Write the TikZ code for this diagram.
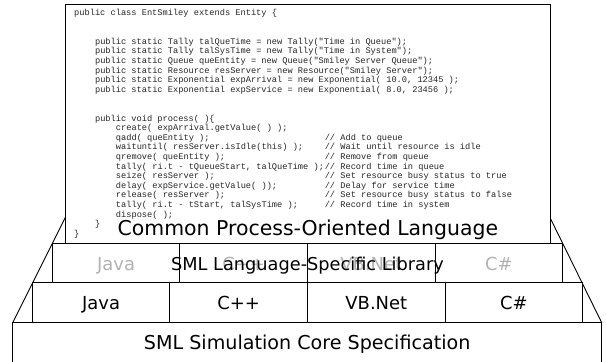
\documentclass[tikz,border=0pt]{standalone}
\usepackage{fontspec}
\setmainfont{DejaVu Sans}
\newfontfamily\codefont{Liberation Mono}
\newcommand\codeline[4]{\node[codetxt] (#1) at ({74+#2*5.22},{15.5+#3*9.6}) {#4};}
\begin{document}
\begin{tikzpicture}[x=1bp,y=-1bp,
  box/.style={draw=black, line width=0.9bp, fill=white, inner sep=0pt, outer sep=0pt, anchor=north west},
  lab/.style={font=\fontsize{18}{20}\selectfont, inner sep=0pt, anchor=base},
  glab/.style={lab, text=black!30},
  codetxt/.style={font=\codefont\fontsize{8.7}{9.6}\selectfont, inner sep=0pt, anchor=base west, text=black!85}]
\useasboundingbox (0,0) rectangle (606,361);
% trapezoid behind
\draw[line width=0.9bp, fill=white] (12.7,322.7) -- (66,216) -- (550,217.6) -- (601.7,322.7) -- cycle;
% core
\node[box, minimum width=589bp, minimum height=42bp] (core) at (12.7,322.7) {};
% language row
\node[box, minimum width=137.6bp, minimum height=40.4bp] (j1) at (32.3,282.3) {};
\node[box, minimum width=137.6bp, minimum height=40.4bp] (j2) at (169.9,282.3) {};
\node[box, minimum width=137.6bp, minimum height=40.4bp] (j3) at (307.5,282.3) {};
\node[box, minimum width=137.6bp, minimum height=40.4bp] (j4) at (445.1,282.3) {};
% library row
\node[box, minimum width=127.6bp, minimum height=39.3bp] (l1) at (52.3,243) {};
\node[box, minimum width=127.6bp, minimum height=39.3bp] (l2) at (179.9,243) {};
\node[box, minimum width=127.6bp, minimum height=39.3bp] (l3) at (307.5,243) {};
\node[box, minimum width=127.6bp, minimum height=39.3bp] (l4) at (435.1,243) {};
% code box
\node[box, minimum width=484.3bp, minimum height=239bp] (codebox) at (65.7,4) {};
% baselines
\coordinate (blib) at (0,270.5);
\coordinate (blang) at (0,309.5);
\coordinate (bcore) at (0,349);
\coordinate (bcom) at (0,235);
\node[glab] (gl1) at (l1.center |- blib) {Java};
\node[glab] (gl2) at (l2.center |- blib) {C++};
\node[glab] (gl3) at (l3.center |- blib) {VB.Net};
\node[glab] (gl4) at (l4.center |- blib) {C\#};
\node[lab, font=\fontsize{17.8}{20}\selectfont] (libl) at (l2.north east |- blib) {SML Language-Specific Library};
\node[lab] (tj1) at (j1.center |- blang) {Java};
\node[lab] (tj2) at (j2.center |- blang) {C++};
\node[lab] (tj3) at (j3.center |- blang) {VB.Net};
\node[lab] (tj4) at (j4.center |- blang) {C\#};
\node[lab, font=\fontsize{19.2}{21}\selectfont] (corel) at (core.north |- bcore) {SML Simulation Core Specification};
\node[lab, font=\fontsize{20.5}{22}\selectfont] (coml) at (codebox.south |- bcom) {Common Process-Oriented Language};
% code
\codeline{c0}{0}{0}{public class EntSmiley extends Entity \{}
\codeline{c3}{4}{3}{public static Tally talQueTime = new Tally("Time in Queue");}
\codeline{c4}{4}{4}{public static Tally talSysTime = new Tally("Time in System");}
\codeline{c5}{4}{5}{public static Queue queEntity = new Queue("Smiley Server Queue");}
\codeline{c6}{4}{6}{public static Resource resServer = new Resource("Smiley Server");}
\codeline{c7}{4}{7}{public static Exponential expArrival = new Exponential( 10.0, 12345 );}
\codeline{c8}{4}{8}{public static Exponential expService = new Exponential( 8.0, 23456 );}
\codeline{c11}{4}{11}{public void process( )\{}
\codeline{c12}{8}{12}{create( expArrival.getValue( ) );}
\codeline{c13}{8}{13}{qadd( queEntity );}
\codeline{c14}{8}{14}{waituntil( resServer.isIdle(this) );}
\codeline{c15}{8}{15}{qremove( queEntity );}
\codeline{c16}{8}{16}{tally( ri.t - tQueueStart, talQueTime );}
\codeline{c17}{8}{17}{seize( resServer );}
\codeline{c18}{8}{18}{delay( expService.getValue( ));}
\codeline{c19}{8}{19}{release( resServer );}
\codeline{c20}{8}{20}{tally( ri.t - tStart, talSysTime );}
\codeline{c21}{8}{21}{dispose( );}
\codeline{c22}{4}{22}{\}}
\codeline{c23}{0}{23}{\}}
\codeline{m13}{48}{13}{// Add to queue}
\codeline{m14}{48}{14}{// Wait until resource is idle}
\codeline{m15}{48}{15}{// Remove from queue}
\codeline{m16}{48}{16}{// Record time in queue}
\codeline{m17}{48}{17}{// Set resource busy status to true}
\codeline{m18}{48}{18}{// Delay for service time}
\codeline{m19}{48}{19}{// Set resource busy status to false}
\codeline{m20}{48}{20}{// Record time in system}
\end{tikzpicture}
\end{document}
